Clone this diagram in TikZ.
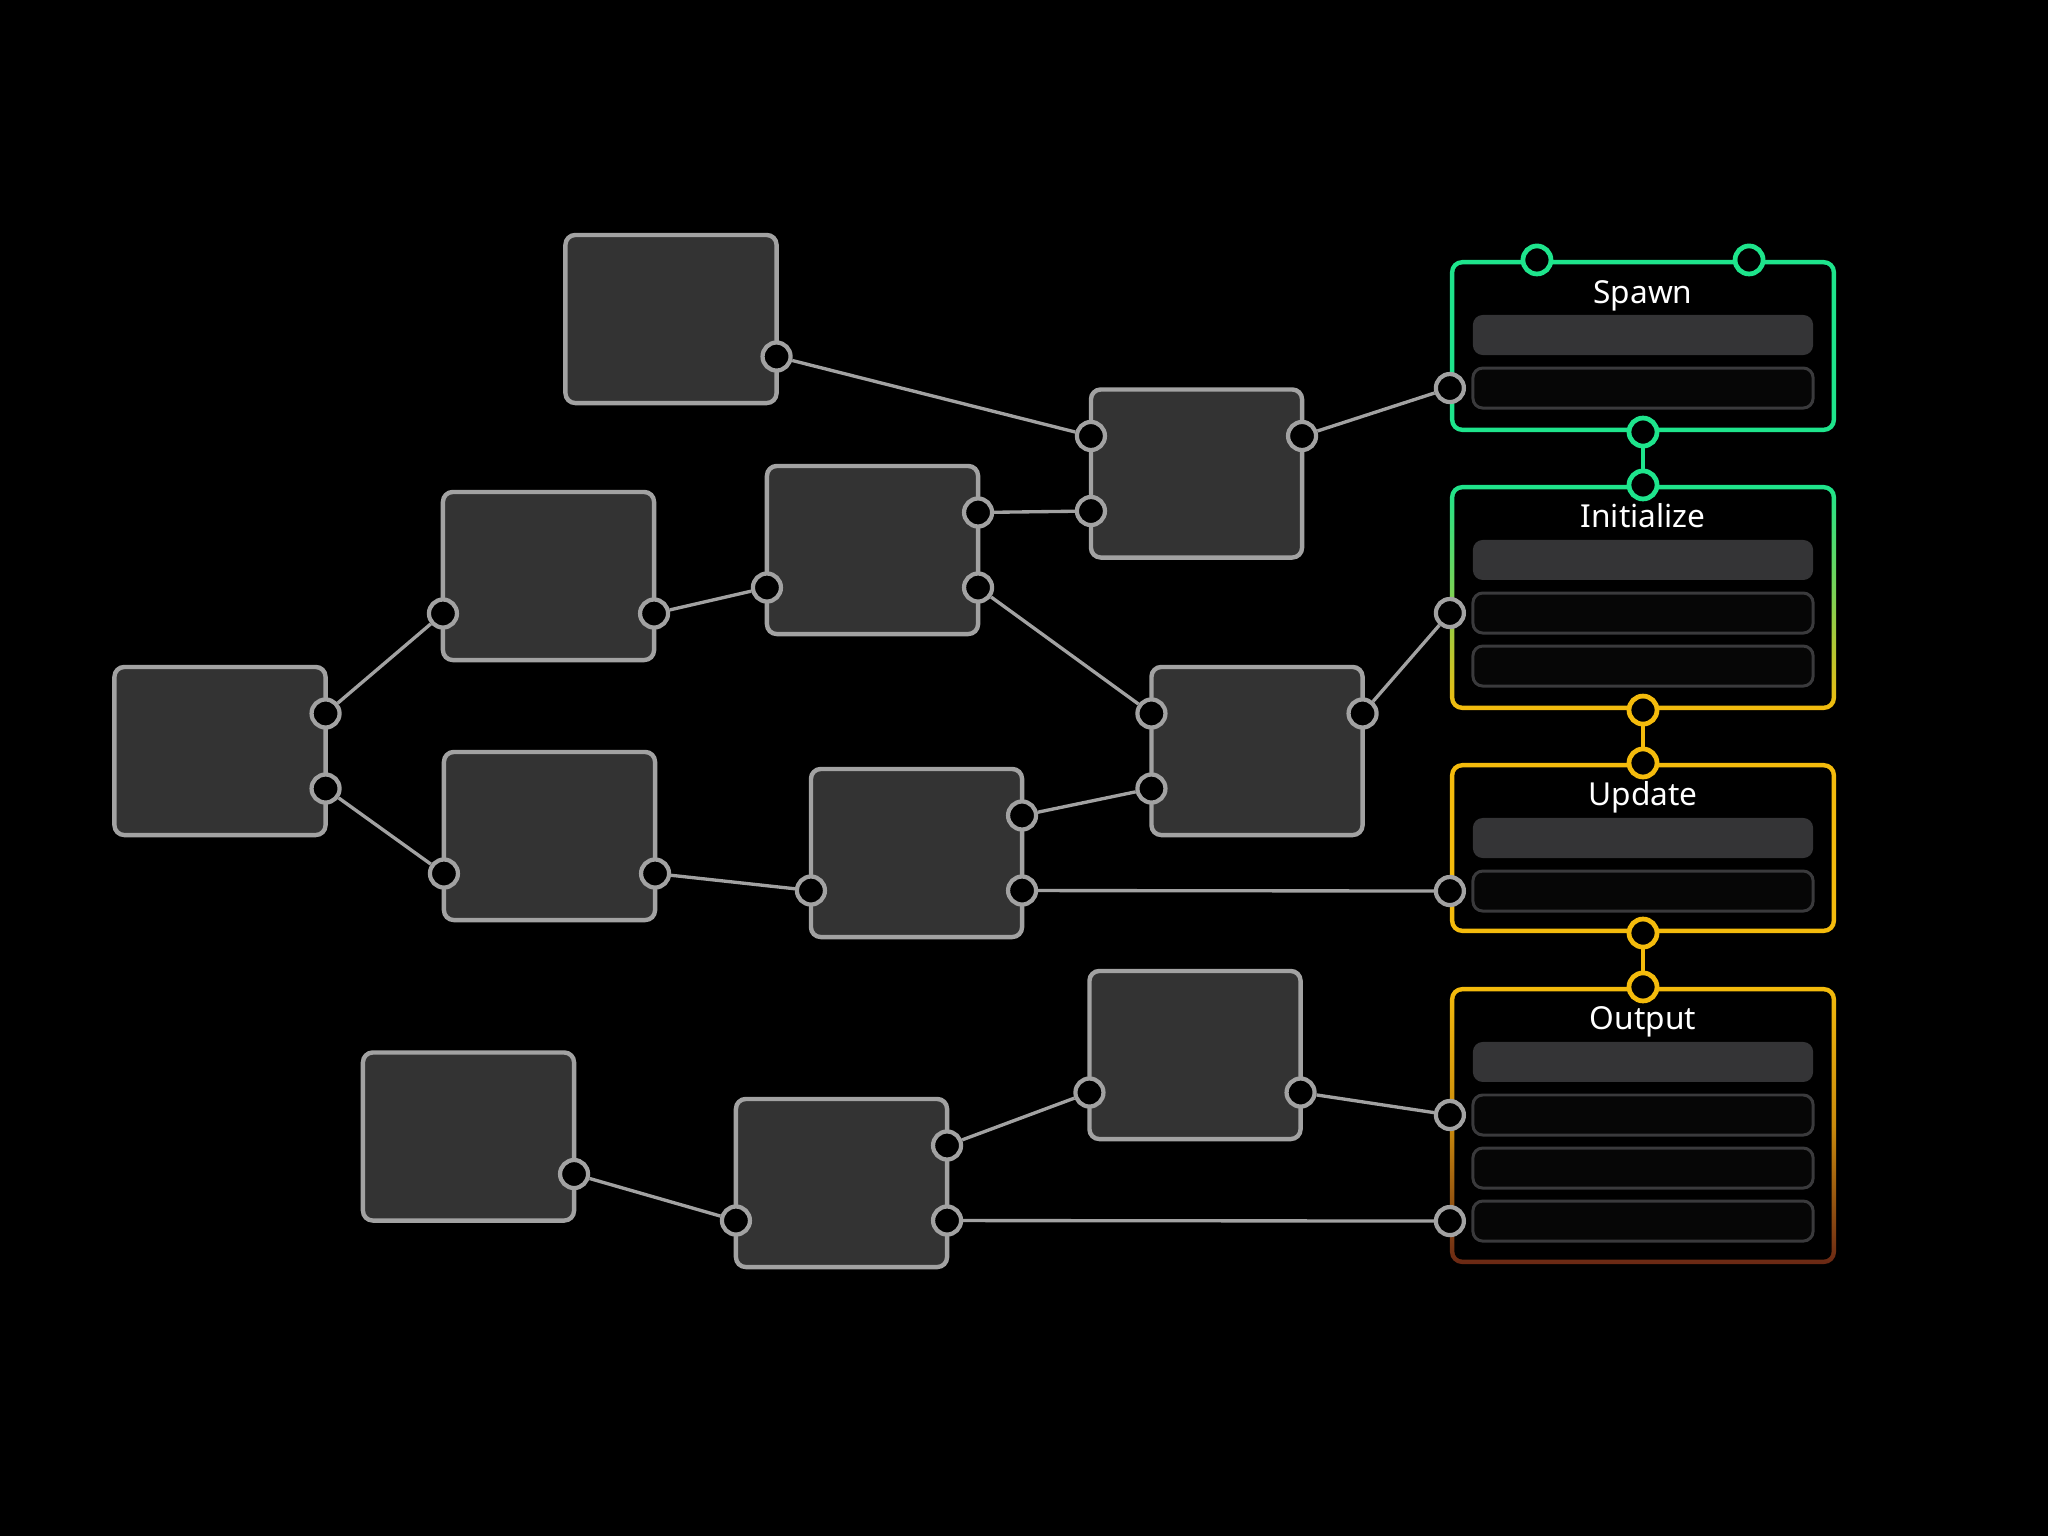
\documentclass[tikz,border=0pt]{standalone}
\usepackage{fontspec}
\setmainfont{Noto Sans}
\usetikzlibrary{positioning}

\definecolor{boxfill}{HTML}{333333}
\definecolor{boxline}{HTML}{A2A2A2}
\definecolor{slotfill}{HTML}{343436}
\definecolor{slotline}{HTML}{3A3A3C}
\definecolor{slotdark}{HTML}{060606}
\definecolor{spgreen}{HTML}{1EE48C}
\definecolor{upyellow}{HTML}{F4BB0C}
\definecolor{outamber}{HTML}{C98A0C}
\definecolor{outbrown}{HTML}{6A2814}

\tikzset{
  blk/.style={draw=boxline, fill=boxfill, line width=1.25pt, rounded corners=2.8pt,
    minimum width=2.11cm, minimum height=1.68cm, inner sep=0pt, outer sep=0pt},
  port/.style={circle, draw=boxline, fill=black, line width=1.2pt,
    minimum size=0.28cm, inner sep=0pt},
  cport/.style={port, draw=#1, line width=1.35pt},
  wire/.style={draw=boxline, line width=0.95pt},
  link/.style={draw=#1, line width=1.35pt},
  panel/.style={rounded corners=3.5pt, minimum width=3.86cm, inner sep=0pt, outer sep=0pt},
  hole/.style={fill=black, rounded corners=2.3pt, minimum width=3.77cm, inner sep=0pt},
  slot/.style={fill=slotfill, rounded corners=2.8pt, minimum width=3.40cm,
    minimum height=0.40cm, inner sep=0pt, outer sep=0pt},
  slotempty/.style={slot, fill=slotdark, draw=slotline, line width=0.85pt},
  title/.style={text=white, anchor=base, font=\fontsize{9}{10}\selectfont},
}

\begin{document}
\begin{tikzpicture}[x=0.01cm, y=-0.01cm]

\fill[black] (0,0) rectangle (2048,1536);

% blocchi grigi
\node[blk] (a) at (671,319) {};
\node[blk] (b) at (1196.5,473.5) {};
\node[blk] (c) at (548.5,576) {};
\node[blk] (d) at (872.5,550) {};
\node[blk] (e) at (220,751) {};
\node[blk] (f) at (549.5,836) {};
\node[blk] (g) at (916.5,853) {};
\node[blk] (h) at (1257,751) {};
\node[blk] (i) at (468.5,1136.5) {};
\node[blk] (j) at (841.5,1183) {};
\node[blk] (k) at (1195,1055) {};

% porte dei blocchi
\node[port] (a-o) at ([yshift=-3.75mm]a.east) {};
\node[port] (b-i1) at ([yshift=3.75mm]b.west) {};
\node[port] (b-i2) at ([yshift=-3.75mm]b.west) {};
\node[port] (b-o) at ([yshift=3.75mm]b.east) {};
\node[port] (c-i) at ([yshift=-3.75mm]c.west) {};
\node[port] (c-o) at ([yshift=-3.75mm]c.east) {};
\node[port] (d-i) at ([yshift=-3.75mm]d.west) {};
\node[port] (d-o1) at ([yshift=3.75mm]d.east) {};
\node[port] (d-o2) at ([yshift=-3.75mm]d.east) {};
\node[port] (e-o1) at ([yshift=3.75mm]e.east) {};
\node[port] (e-o2) at ([yshift=-3.75mm]e.east) {};
\node[port] (f-i) at ([yshift=-3.75mm]f.west) {};
\node[port] (f-o) at ([yshift=-3.75mm]f.east) {};
\node[port] (g-i) at ([yshift=-3.75mm]g.west) {};
\node[port] (g-o1) at ([yshift=3.75mm]g.east) {};
\node[port] (g-o2) at ([yshift=-3.75mm]g.east) {};
\node[port] (h-i1) at ([yshift=3.75mm]h.west) {};
\node[port] (h-i2) at ([yshift=-3.75mm]h.west) {};
\node[port] (h-o) at ([yshift=3.75mm]h.east) {};
\node[port] (i-o) at ([yshift=-3.75mm]i.east) {};
\node[port] (j-i) at ([yshift=-3.75mm]j.west) {};
\node[port] (j-o1) at ([yshift=3.75mm]j.east) {};
\node[port] (j-o2) at ([yshift=-3.75mm]j.east) {};
\node[port] (k-i) at ([yshift=-3.75mm]k.west) {};
\node[port] (k-o) at ([yshift=-3.75mm]k.east) {};

% pannelli a destra
\node[panel, fill=spgreen, minimum height=1.72cm] (spawn) at (1643,346) {};
\node[hole, minimum height=1.63cm] (spawn-h) at (spawn) {};
\node[panel, top color=spgreen, bottom color=upyellow, middle color=spgreen!55!upyellow,
  minimum height=2.25cm] (init) at (1643,597.5) {};
\node[hole, minimum height=2.16cm] (init-h) at (init) {};
\node[panel, fill=upyellow, minimum height=1.70cm] (upd) at (1643,848) {};
\node[hole, minimum height=1.61cm] (upd-h) at (upd) {};
\node[panel, top color=upyellow, bottom color=outbrown, middle color=outamber,
  minimum height=2.77cm] (out) at (1643,1125.5) {};
\node[hole, minimum height=2.68cm] (out-h) at (out) {};

\node[title] (spawn-t) at ([yshift=-0.44cm]spawn.north) {Spawn};
\node[slot] (sp1) at ([yshift=-0.75cm]spawn.north) {};
\node[slotempty, below=0.13cm of sp1] (sp2) {};

\node[title] (init-t) at ([yshift=-0.43cm]init.north) {Initialize};
\node[slot] (in1) at ([yshift=-0.75cm]init.north) {};
\node[slotempty, below=0.13cm of in1] (in2) {};
\node[slotempty, below=0.13cm of in2] (in3) {};

\node[title] (upd-t) at ([yshift=-0.43cm]upd.north) {Update};
\node[slot] (up1) at ([yshift=-0.75cm]upd.north) {};
\node[slotempty, below=0.13cm of up1] (up2) {};

\node[title] (out-t) at ([yshift=-0.43cm]out.north) {Output};
\node[slot] (ou1) at ([yshift=-0.75cm]out.north) {};
\node[slotempty, below=0.13cm of ou1] (ou2) {};
\node[slotempty, below=0.13cm of ou2] (ou3) {};
\node[slotempty, below=0.13cm of ou3] (ou4) {};

% porte dei pannelli
\node[cport=spgreen] (sp-t1) at ([xshift=-1.06cm]spawn.north) {};
\node[cport=spgreen] (sp-t2) at ([xshift=1.06cm]spawn.north) {};
\node[cport=spgreen] (sp-b) at (spawn.south) {};
\node[cport=spgreen] (in-t) at (init.north) {};
\node[cport=upyellow] (in-b) at (init.south) {};
\node[cport=upyellow] (up-t) at (upd.north) {};
\node[cport=upyellow] (up-b) at (upd.south) {};
\node[cport=upyellow] (ou-t) at (out.north) {};

\node[port] (sp-i) at (spawn.west |- sp2) {};
\node[port] (in-i) at (init.west |- in2) {};
\node[port] (up-i) at (upd.west |- up2) {};
\node[port] (ou-i1) at (out.west |- ou2) {};
\node[port] (ou-i2) at (out.west |- ou4) {};

\draw[link=spgreen] (sp-b) -- (in-t);
\draw[link=upyellow] (in-b) -- (up-t);
\draw[link=upyellow] (up-b) -- (ou-t);

% collegamenti
\draw[wire] (a-o) -- (b-i1);
\draw[wire] (b-o) -- (sp-i);
\draw[wire] (d-o1) -- (b-i2);
\draw[wire] (c-o) -- (d-i);
\draw[wire] (d-o2) -- (h-i1);
\draw[wire] (e-o1) -- (c-i);
\draw[wire] (e-o2) -- (f-i);
\draw[wire] (f-o) -- (g-i);
\draw[wire] (g-o1) -- (h-i2);
\draw[wire] (g-o2) -- (up-i);
\draw[wire] (h-o) -- (in-i);
\draw[wire] (i-o) -- (j-i);
\draw[wire] (j-o1) -- (k-i);
\draw[wire] (j-o2) -- (ou-i2);
\draw[wire] (k-o) -- (ou-i1);

\end{tikzpicture}
\end{document}
